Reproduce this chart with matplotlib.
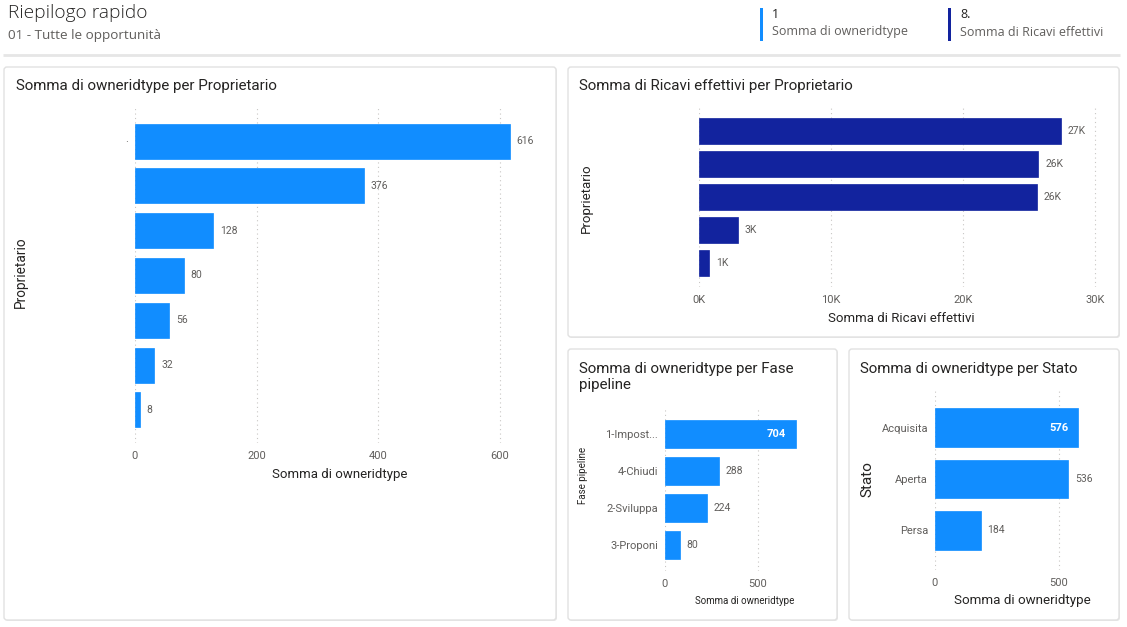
import matplotlib
matplotlib.use("Agg")
import matplotlib.pyplot as plt
from matplotlib.patches import FancyBboxPatch, Rectangle

# ---------------- data ----------------
owners = ["·", "", "", "", "", "", ""]
owner_counts = [616, 376, 128, 80, 56, 32, 8]
owner_ticks = [0, 200, 400, 600]

rev_owners = ["", "", "", "", ""]
revenue = [27400, 25700, 25600, 2950, 760]
revenue_labels = ["27K", "26K", "26K", "3K", "1K"]
rev_ticks = [0, 10000, 20000, 30000]
rev_tick_labels = ["0K", "10K", "20K", "30K"]

stages = ["1-Impost...", "4-Chiudi", "2-Sviluppa", "3-Proponi"]
stage_counts = [704, 288, 224, 80]
stage_ticks = [0, 500]

states = ["Acquisita", "Aperta", "Persa"]
state_counts = [576, 536, 184]
state_ticks = [0, 500]

kpi_values = ["1", "8."]
kpi_labels = ["Somma di owneridtype", "Somma di Ricavi effettivi"]

# ---------------- style ----------------
W, H = 1127, 627
LIGHT = "#118DFF"
NAVY = "#12239E"
TXT = "#252423"
SUB = "#605E5C"
GRID = "#C8C6C4"
FONT = ["Roboto", "DejaVu Sans"]
HFONT = ["Open Sans", "DejaVu Sans"]
plt.rcParams["font.family"] = FONT

fig = plt.figure(figsize=(W / 100, H / 100), dpi=100)
fig.patch.set_facecolor("white")

bg = fig.add_axes([0, 0, 1, 1], zorder=0)
bg.set_xlim(0, W)
bg.set_ylim(H, 0)
bg.axis("off")

# header
bg.text(8, 13, "Riepilogo rapido", fontsize=13.8, color=TXT, family=HFONT,
        va="center", ha="left", fontweight="light")
bg.text(8, 35, "01 - Tutte le opportunità", fontsize=9.7, color=SUB, family=HFONT,
        va="center", ha="left")
bg.plot([3, 1120], [55, 55], color="#E6E6E6", lw=2, solid_capstyle="butt")

# KPI cards
for x0, col, val, lab in zip([760, 948], [LIGHT, NAVY], kpi_values, kpi_labels):
    bg.add_patch(Rectangle((x0, 8), 3, 33, color=col, lw=0))
    bg.text(x0 + 12, 15, val, fontsize=9, color=TXT, family=HFONT, va="center")
    bg.text(x0 + 12, 32, lab, fontsize=9, color=SUB, family=HFONT, va="center")

# panels
def panel(l, t, r, b):
    bg.add_patch(FancyBboxPatch((l + 1, t + 1), r - l, b - t,
                                boxstyle="round,pad=0,rounding_size=3",
                                fc="#E9E9E9", ec="none", lw=0))
    bg.add_patch(FancyBboxPatch((l, t), r - l, b - t,
                                boxstyle="round,pad=0,rounding_size=3",
                                fc="white", ec="#E1E1E1", lw=1))

panel(4, 67, 556, 620)
panel(568, 67, 1119, 337)
panel(568, 349, 837, 620)
panel(849, 349, 1119, 620)

TS = 10.9
bg.text(16, 86, "Somma di owneridtype per Proprietario", fontsize=TS, color=TXT, va="center")
bg.text(579, 86, "Somma di Ricavi effettivi per Proprietario", fontsize=TS, color=TXT, va="center")
bg.text(579, 377, "Somma di owneridtype per Fase\npipeline", fontsize=TS, color=TXT,
        va="center", linespacing=1.1)
bg.text(860, 369, "Somma di owneridtype per Stato", fontsize=TS, color=TXT, va="center")


def ax_px(l, t, r, b):
    a = fig.add_axes([l / W, 1 - b / H, (r - l) / W, (b - t) / H], zorder=2)
    a.set_facecolor("none")
    return a


def bar_chart(ax, cats, vals, color, ticks, tick_labels, xmax, pad_units, height,
              labels, label_size, inside_first=False, cat_size=8):
    n = len(vals)
    pos = list(range(n))
    ax.barh(pos, vals, height=height, color=color, edgecolor=color, lw=0.5, zorder=2)
    ax.set_ylim(n - 1 + pad_units, -pad_units)
    ax.set_xlim(0, xmax)
    ax.set_xticks(ticks)
    ax.set_xticklabels(tick_labels)
    ax.set_yticks(pos)
    ax.set_yticklabels(cats)
    ax.tick_params(axis="both", length=0, colors=SUB, labelsize=cat_size)
    ax.tick_params(axis="x", pad=6)
    ax.tick_params(axis="y", pad=5)
    for s in ax.spines.values():
        s.set_visible(False)
    ax.grid(axis="x", color=GRID, linestyle=(0, (1, 3)), lw=0.8, zorder=0)
    ax.set_axisbelow(True)
    for i, (v, lab) in enumerate(zip(vals, labels)):
        if inside_first and i == 0:
            ax.annotate(lab, (v, i), xytext=(-7, 0), textcoords="offset points",
                        ha="right", va="center", color="white", fontweight="bold",
                        fontsize=label_size + 0.5)
        else:
            ax.annotate(lab, (v, i), xytext=(5, 0), textcoords="offset points",
                        ha="left", va="center", color=SUB, fontsize=label_size)


# panel 1
ax1 = ax_px(135, 108, 545, 443)
bar_chart(ax1, owners, owner_counts, LIGHT, owner_ticks, [str(t) for t in owner_ticks],
          (545 - 135) / (365.0 / 600), 0.74, 0.78, [str(v) for v in owner_counts], 7.5)
ax1.set_xlabel("Somma di owneridtype", fontsize=9.5, color=TXT, labelpad=5)
bg.text(21, 272, "Proprietario", fontsize=9.8, color=TXT, rotation=90, ha="center", va="center")

# panel 2
ax2 = ax_px(699, 107, 1104, 287)
bar_chart(ax2, rev_owners, revenue, NAVY, rev_ticks, rev_tick_labels,
          (1104 - 699) / 0.0132, 0.73, 0.78, revenue_labels, 7.5)
ax2.set_xlabel("Somma di Ricavi effettivi", fontsize=9.5, color=TXT, labelpad=5)
bg.text(586, 198, "Proprietario", fontsize=9.5, color=TXT, rotation=90, ha="center", va="center")

# panel 3
ax3 = ax_px(665, 408, 825, 571)
bar_chart(ax3, stages, stage_counts, LIGHT, stage_ticks, [str(t) for t in stage_ticks],
          (825 - 665) / (93.0 / 500), 0.7, 0.76, [str(v) for v in stage_counts], 7.5,
          inside_first=True)
ax3.set_xlabel("Somma di owneridtype", fontsize=7, color=TXT, labelpad=5)
bg.text(583, 475, "Fase pipeline", fontsize=7, color=TXT, rotation=90, ha="center", va="center")

# panel 4
ax4 = ax_px(935, 388, 1110, 570)
bar_chart(ax4, states, state_counts, LIGHT, state_ticks, [str(t) for t in state_ticks],
          (1110 - 935) / (124.0 / 500), 0.78, 0.76, [str(v) for v in state_counts], 7.5,
          inside_first=True)
ax4.set_xlabel("Somma di owneridtype", fontsize=9.6, color=TXT, labelpad=4)
bg.text(867, 479, "Stato", fontsize=11, color=TXT, rotation=90, ha="center", va="center")

fig.savefig("out.png", dpi=100, facecolor="white")
